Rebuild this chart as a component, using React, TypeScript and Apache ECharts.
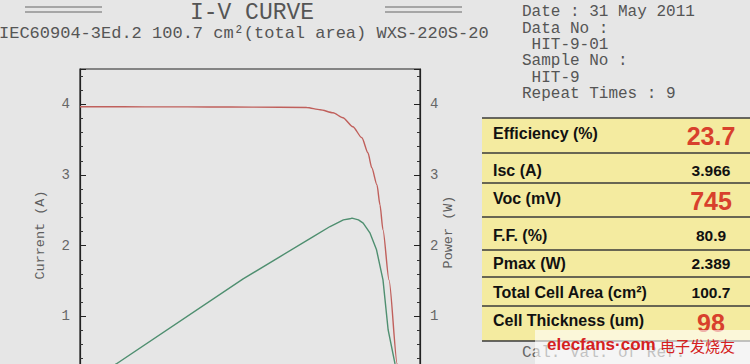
import React, { useEffect, useRef } from "react";
import * as echarts from "echarts";

// ---- data ----
const ivVoltage = [0, 0.1, 0.2, 0.3, 0.4, 0.527, 0.558, 0.588, 0.611, 0.634, 0.655, 0.669, 0.678, 0.69, 0.697, 0.704, 0.718, 0.737, 0.745];
const ivCurrent = [3.966, 3.965, 3.964, 3.963, 3.961, 3.956, 3.924, 3.881, 3.81, 3.683, 3.527, 3.314, 3.102, 2.861, 2.578, 2.224, 1.516, 0.326, 0];

const pvVoltage = [0, 0.084, 0.379, 0.465, 0.542, 0.581, 0.612, 0.627, 0.632, 0.647, 0.658, 0.674, 0.689, 0.704, 0.716, 0.732, 0.745];
const pvPower = [0, 0.326, 1.53, 1.846, 2.129, 2.271, 2.365, 2.38, 2.389, 2.365, 2.319, 2.177, 1.941, 1.516, 0.807, 0.326, 0];

const titleText = "I-V CURVE";
const subtitleText = "IEC60904-3Ed.2 100.7 cm²(total area) WXS-220S-20";
const currentAxisName = "Current (A)";
const powerAxisName = "Power (W)";

const infoLines = ["Date : 31 May 2011", "Data No :", "HIT-9-01", "Sample No :", "HIT-9", "Repeat Times : 9"];
const infoIndent = [0, 0, 1, 0, 1, 0];

const tableLabels = ["Efficiency (%)", "Isc (A)", "Voc (mV)", "F.F. (%)", "Pmax (W)", "Total Cell Area (cm²)", "Cell Thickness (um)"];
const tableValues = ["23.7", "3.966", "745", "80.9", "2.389", "100.7", "98"];
const tableHighlight = [true, false, true, false, false, false, true];

const footerText = "Cal. Val. of Ref.";
const watermarkLatin = "elecfans·com";
const watermarkCJK = "电子发烧友";

// ---- layout ----
const rowEdges = [118, 153, 183, 217, 250, 277, 306, 341];
const labelY = [133, 170, 198, 235, 263, 292, 320];
const valueY = [136, 170, 201, 235, 263, 292, 323];

const MONO = "'Liberation Mono', 'DejaVu Sans Mono', monospace";
const SANS = "'Liberation Sans', Arial, sans-serif";

export default function App() {
  const ref = useRef<HTMLDivElement>(null);

  useEffect(() => {
    if (!ref.current) return;
    const chart = echarts.init(ref.current, null, { renderer: "svg" });

    const graphics: any[] = [];

    // title with double rules
    graphics.push({
      type: "text", x: 252, y: 12.5, z: 10,
      style: { text: titleText, fill: "#555", font: `23px ${MONO}`, align: "center", verticalAlign: "middle" },
    });
    [[25, 102], [385, 462]].forEach(([x1, x2]) => {
      [7, 12].forEach((yy) => {
        graphics.push({
          type: "line", z: 10,
          shape: { x1, y1: yy, x2, y2: yy },
          style: { stroke: "#666", lineWidth: 1 },
        });
      });
    });
    graphics.push({
      type: "text", x: -1, y: 33, z: 10,
      style: { text: subtitleText, fill: "#555", font: `17px ${MONO}`, align: "left", verticalAlign: "middle" },
    });

    // axis titles
    graphics.push({
      type: "text", x: 40, y: 235, rotation: Math.PI / 2, z: 10,
      style: { text: currentAxisName, fill: "#5e5e5e", font: `13.5px ${MONO}`, align: "center", verticalAlign: "middle" },
    });
    graphics.push({
      type: "text", x: 448, y: 232, rotation: Math.PI / 2, z: 10,
      style: { text: powerAxisName, fill: "#5e5e5e", font: `13.5px ${MONO}`, align: "center", verticalAlign: "middle" },
    });

    // info block
    infoLines.forEach((t, i) => {
      graphics.push({
        type: "text", x: 522 + infoIndent[i] * 9.6, y: 12.3 + i * 16.3, z: 10,
        style: { text: t, fill: "#555", font: `16px ${MONO}`, align: "left", verticalAlign: "middle" },
      });
    });

    // table
    graphics.push({
      type: "rect", z: 5,
      shape: { x: 482, y: rowEdges[0], width: 268, height: rowEdges[rowEdges.length - 1] - rowEdges[0] },
      style: { fill: "#f4eba0" },
    });
    rowEdges.forEach((yy) => {
      graphics.push({
        type: "line", z: 6,
        shape: { x1: 482, y1: yy, x2: 750, y2: yy },
        style: { stroke: "#3a3a3a", lineWidth: 1.5 },
      });
    });
    tableLabels.forEach((t, i) => {
      graphics.push({
        type: "text", x: 493, y: labelY[i], z: 7,
        style: { text: t, fill: "#111", font: `bold 16px ${SANS}`, align: "left", verticalAlign: "middle" },
      });
      graphics.push({
        type: "text", x: 711, y: valueY[i], z: 7,
        style: {
          text: tableValues[i],
          fill: tableHighlight[i] ? "#d8402c" : "#111",
          font: tableHighlight[i] ? `bold 25px ${SANS}` : `bold 15.5px ${SANS}`,
          align: "center", verticalAlign: "middle",
        },
      });
    });

    // footer + watermark
    graphics.push({
      type: "text", x: 522, y: 353, z: 8,
      style: { text: footerText, fill: "#666", font: `16px ${MONO}`, align: "left", verticalAlign: "middle" },
    });
    graphics.push({
      type: "rect", z: 9,
      shape: { x: 535, y: 330, width: 215, height: 40 },
      style: { fill: "rgba(255,255,255,0.6)" },
    });
    graphics.push({
      type: "text", x: 547, y: 344, z: 10,
      style: { text: watermarkLatin, fill: "#d42020", font: `bold 17px ${SANS}`, align: "left", verticalAlign: "middle" },
    });
    graphics.push({
      type: "text", x: 660, y: 345, z: 10,
      style: { text: watermarkCJK, fill: "#d42020", font: `15px 'Noto Sans CJK SC', sans-serif`, align: "left", verticalAlign: "middle" },
    });

    const yAxisCommon = {
      type: "value" as const,
      min: 0,
      max: 4.5,
      interval: 1,
      splitLine: { show: false },
      axisLine: { show: true, lineStyle: { color: "#222", width: 1.2 } },
      axisTick: { show: true, inside: true, length: 6, lineStyle: { color: "#222", width: 1 } },
      minorTick: { show: true, splitNumber: 5, length: 3, lineStyle: { color: "#333", width: 1 } },
      axisLabel: {
        margin: 10, color: "#666", fontFamily: MONO, fontSize: 14,
        showMaxLabel: false,
        showMinLabel: false,
        formatter: (v: number) => (v === 4.5 || v === 0 ? "" : String(v)),
      },
    };

    chart.setOption({
      animation: false,
      backgroundColor: "#e6e6e6",
      grid: {
        left: 80, right: 330, top: 69, bottom: 33,
        show: true, borderColor: "#222", borderWidth: 1.2, backgroundColor: "transparent",
      },
      xAxis: {
        type: "value", min: 0, max: 0.79, show: false,
      },
      yAxis: [
        { ...yAxisCommon, position: "left" },
        { ...yAxisCommon, position: "right" },
      ],
      series: [
        {
          type: "line",
          yAxisIndex: 0,
          data: ivVoltage.map((v, i) => [v, ivCurrent[i]]),
          showSymbol: false,
          smooth: 0.25,
          smoothMonotone: "x",
          lineStyle: { color: "#c0605c", width: 1.4 },
        },
        {
          type: "line",
          yAxisIndex: 1,
          data: pvVoltage.map((v, i) => [v, pvPower[i]]),
          showSymbol: false,
          smooth: false,
          lineStyle: { color: "#4f8f70", width: 1.4 },
        },
      ],
      graphic: graphics,
    });

    return () => chart.dispose();
  }, []);

  return (
    <div style={{ position: "fixed", left: 0, top: 0, width: 750, height: 364, overflow: "hidden", background: "#e6e6e6" }}>
      <div ref={ref} style={{ width: 750, height: 420 }} />
    </div>
  );
}
